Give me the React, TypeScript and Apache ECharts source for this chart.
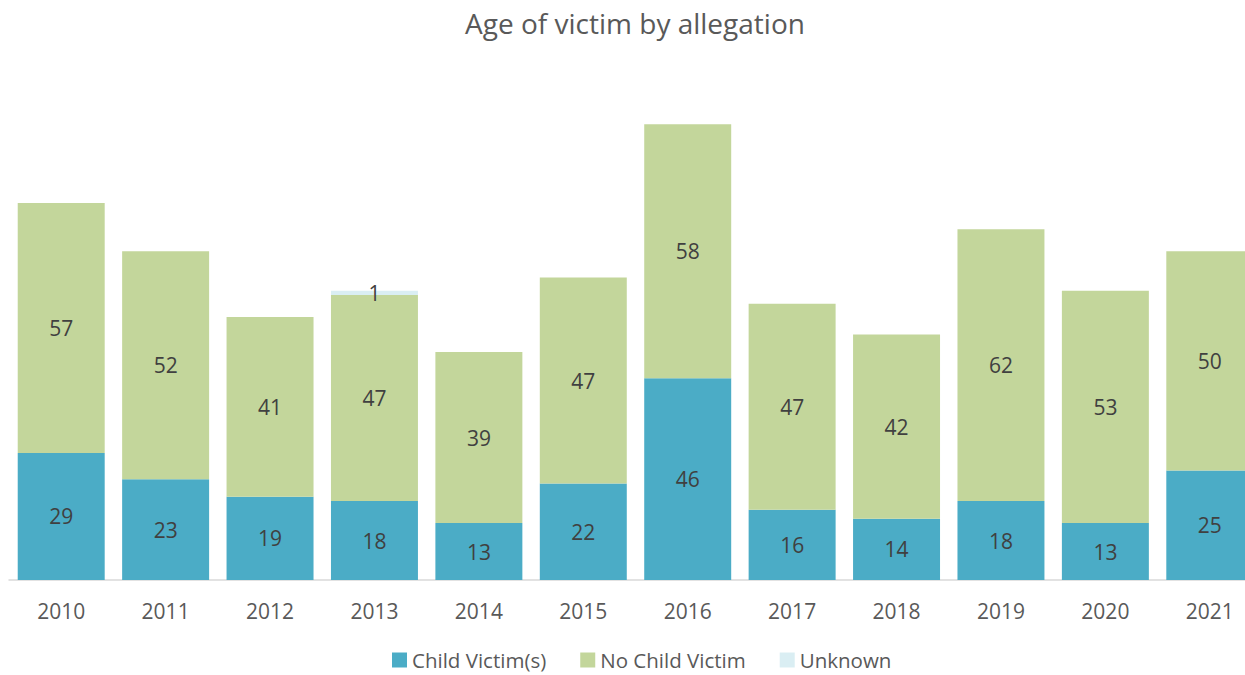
import React, { useEffect, useRef } from "react";
import * as echarts from "echarts";

const years = ["2010", "2011", "2012", "2013", "2014", "2015", "2016", "2017", "2018", "2019", "2020", "2021"];
const childVictim = [29, 23, 19, 18, 13, 22, 46, 16, 14, 18, 13, 25];
const noChildVictim = [57, 52, 41, 47, 39, 47, 58, 47, 42, 62, 53, 50];
const unknown = [0, 0, 0, 1, 0, 0, 0, 0, 0, 0, 0, 0];

const FONT = "'Open Sans', 'Noto Sans', sans-serif";

export default function App() {
  const ref = useRef<HTMLDivElement>(null);
  useEffect(() => {
    if (!ref.current) return;
    const chart = echarts.init(ref.current, undefined, { renderer: "svg" });
    const label = {
      show: true,
      position: "inside",
      fontSize: 21,
      color: "#404040",
      fontFamily: FONT,
      formatter: (p: any) => (p.value ? String(p.value) : ""),
    };
    chart.setOption({
      animation: false,
      title: {
        text: "Age of victim by allegation",
        left: "center",
        top: 4,
        textStyle: { fontSize: 28, fontWeight: "normal", color: "#595959", fontFamily: FONT },
      },
      legend: {
        bottom: 4,
        left: 387,
        padding: [0, 5, 0, 5],
        itemWidth: 15,
        itemHeight: 15,
        itemGap: 34,
        icon: "rect",
        textStyle: { fontSize: 20.5, lineHeight: 22, color: "#595959", fontFamily: FONT },
        data: ["Child Victim(s)", "No Child Victim", "Unknown"],
      },
      grid: { left: 9, right: 8, top: 54, height: 526, containLabel: false },
      xAxis: {
        type: "category",
        data: years,
        axisLine: { lineStyle: { color: "#d9d9d9", width: 1.5 } },
        axisTick: { show: false },
        axisLabel: { fontSize: 21, color: "#595959", margin: 20, fontFamily: FONT },
      },
      yAxis: {
        type: "value",
        min: 0,
        max: 120,
        show: false,
        splitLine: { show: false },
      },
      series: [
        {
          name: "Child Victim(s)",
          type: "bar",
          stack: "a",
          data: childVictim,
          barCategoryGap: "16.7%",
          itemStyle: { color: "#4bacc6" },
          label,
        },
        {
          name: "No Child Victim",
          type: "bar",
          stack: "a",
          data: noChildVictim,
          itemStyle: { color: "#c3d69b" },
          label,
        },
        {
          name: "Unknown",
          type: "bar",
          stack: "a",
          data: unknown,
          itemStyle: { color: "#daeef3" },
          label,
        },
      ],
    });
    return () => chart.dispose();
  }, []);
  return (
    <div
      style={{ position: "fixed", left: 0, top: 0, width: 1245, height: 675, overflow: "hidden", background: "#fff" }}
    >
      <div ref={ref} style={{ width: 1270, height: 675 }} />
    </div>
  );
}
